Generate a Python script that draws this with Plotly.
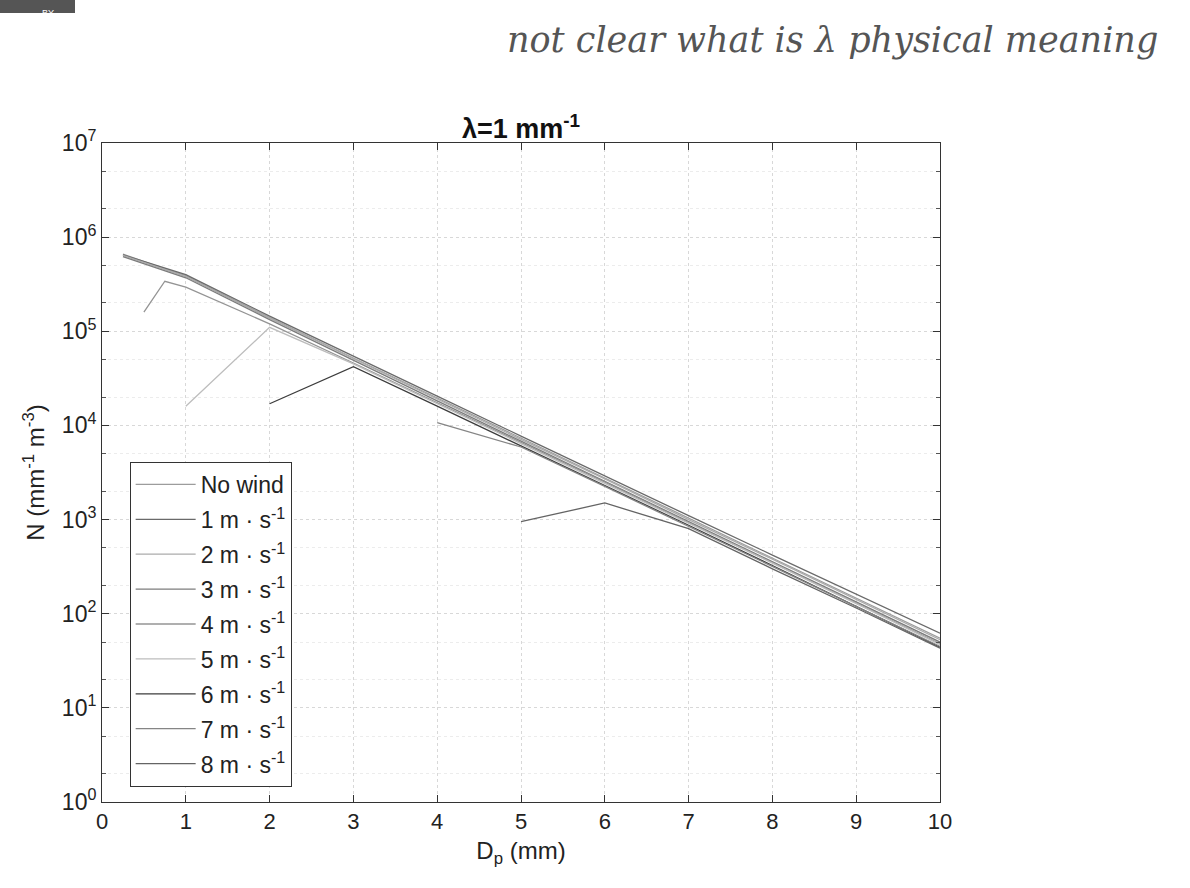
import plotly.graph_objects as go

# Diameter bins (mm)
diameters = [0.25, 0.5, 0.75, 1, 2, 3, 4, 5, 6, 7, 8, 9, 10]

series_names = ["No wind", "1 m · s<sup>-1</sup>", "2 m · s<sup>-1</sup>", "3 m · s<sup>-1</sup>",
                "4 m · s<sup>-1</sup>", "5 m · s<sup>-1</sup>", "6 m · s<sup>-1</sup>",
                "7 m · s<sup>-1</sup>", "8 m · s<sup>-1</sup>"]

no_wind = [6.6e5, 5.5e5, 4.6e5, 3.9e5, 1.40e5, 5.2e4, 1.95e4, 7.3e3, 2.75e3, 1.03e3, 3.9e2, 1.45e2, 55]
wind_1 = [6.5e5, 5.5e5, 4.7e5, 4.0e5, 1.45e5, 5.4e4, 2.05e4, 7.7e3, 2.9e3, 1.10e3, 4.2e2, 1.6e2, 62]
wind_2 = [6.4e5, 5.4e5, 4.5e5, 3.8e5, 1.38e5, 5.1e4, 1.9e4, 7.1e3, 2.7e3, 1.0e3, 3.8e2, 1.42e2, 53]
wind_3 = [6.2e5, 5.2e5, 4.4e5, 3.7e5, 1.33e5, 4.9e4, 1.82e4, 6.8e3, 2.55e3, 9.6e2, 3.6e2, 1.35e2, 50]
wind_4 = [None, 1.6e5, 3.4e5, 2.95e5, 1.2e5, 4.6e4, 1.75e4, 6.6e3, 2.5e3, 9.3e2, 3.5e2, 1.3e2, 48]
wind_5 = [None, None, None, 1.6e4, 1.1e5, 4.5e4, 1.7e4, 6.4e3, 2.45e3, 9.2e2, 3.45e2, 1.28e2, 47]
wind_6 = [None, None, None, None, 1.7e4, 4.2e4, 1.6e4, 6.1e3, 2.3e3, 8.7e2, 3.25e2, 1.2e2, 44]
wind_7 = [None, None, None, None, None, None, 1.07e4, 5.9e3, 2.25e3, 8.5e2, 3.2e2, 1.2e2, 45]
wind_8 = [None, None, None, None, None, None, None, 9.5e2, 1.5e3, 8.0e2, 3.0e2, 1.15e2, 43]

all_series = [no_wind, wind_1, wind_2, wind_3, wind_4, wind_5, wind_6, wind_7, wind_8]
line_colors = ["#9c9c9c", "#6a6a6a", "#ababab", "#7c7c7c", "#949494", "#bdbdbd", "#3c3c3c", "#858585", "#646464"]

x_ticks = list(range(0, 11))
y_tick_vals = [1, 10, 100, 1000, 10000, 100000, 1000000, 10000000]
y_tick_text = ["10<sup>0</sup>", "10<sup>1</sup>", "10<sup>2</sup>", "10<sup>3</sup>",
               "10<sup>4</sup>", "10<sup>5</sup>", "10<sup>6</sup>", "10<sup>7</sup>"]

fig = go.Figure()
for i, (name, vals, col) in enumerate(zip(series_names, all_series, line_colors)):
    fig.add_trace(go.Scatter(x=diameters, y=vals, mode="lines", name=name, legendgroup=f"g{i}",
                             line=dict(color=col, width=1.3), connectgaps=False))

font_family = "Liberation Sans, Arial, sans-serif"

fig.update_layout(
    width=1190, height=888,
    margin=dict(l=102, r=250, t=143, b=86),
    paper_bgcolor="white", plot_bgcolor="white",
    font=dict(family=font_family, size=22, color="#222"),
    title=dict(text="<b>λ=1 mm<sup>-1</sup></b>", x=0.5, xref="paper", xanchor="center",
               y=1, yref="paper", yanchor="bottom", pad=dict(b=5),
               font=dict(family=font_family, size=27, color="#111")),
    showlegend=True,
    legend=dict(x=0.033, y=0.516, xanchor="left", yanchor="top",
                bordercolor="#333", borderwidth=1, bgcolor="white",
                font=dict(family=font_family, size=23, color="#222"),
                itemwidth=60, tracegroupgap=2),
)

fig.update_xaxes(range=[0, 10], tickvals=x_ticks, ticktext=[str(v) for v in x_ticks],
                 ticks="inside", ticklen=7, tickcolor="#333", mirror="allticks",
                 showline=True, linecolor="#333", linewidth=1,
                 showgrid=True, gridcolor="#d8d8d8", griddash="dot", gridwidth=1,
                 zeroline=False,
                 title=dict(text="D<sub>p</sub> (mm)", font=dict(size=24), standoff=8),
                 tickfont=dict(size=22))

fig.update_yaxes(type="log", range=[0, 7], tickvals=y_tick_vals, ticktext=y_tick_text,
                 ticks="inside", ticklen=7, tickcolor="#333", mirror="allticks",
                 showline=True, linecolor="#333", linewidth=1,
                 showgrid=True, gridcolor="#d8d8d8", griddash="dot", gridwidth=1,
                 minor=dict(ticks="inside", ticklen=4, tickcolor="#555", showgrid=True,
                            gridcolor="#ececec", griddash="dot"),
                 zeroline=False,
                 title=dict(text="N (mm<sup>-1</sup> m<sup>-3</sup>)", font=dict(size=24), standoff=10),
                 tickfont=dict(size=23))

# handwritten note at top
fig.add_annotation(xref="paper", yref="paper", x=(505 - 102) / 838, y=1 + (143 - 40) / 659,
                   xanchor="left", yanchor="middle", showarrow=False,
                   text="<i>not clear what is λ physical meaning</i>",
                   font=dict(family="DejaVu Serif, serif", size=35, color="#555"))

# "BY" badge in the corner
fig.add_shape(type="rect", xref="paper", yref="paper",
              x0=-102 / 838, x1=(75 - 102) / 838, y0=1 + (143 - 13) / 659, y1=1 + 143 / 659,
              fillcolor="#555", line=dict(width=0))
fig.add_annotation(xref="paper", yref="paper", x=(40 - 102) / 838, y=1 + (143 - 6.5) / 659,
                   showarrow=False, text="BY", font=dict(size=9, color="white"))

fig.write_html("out.html")
